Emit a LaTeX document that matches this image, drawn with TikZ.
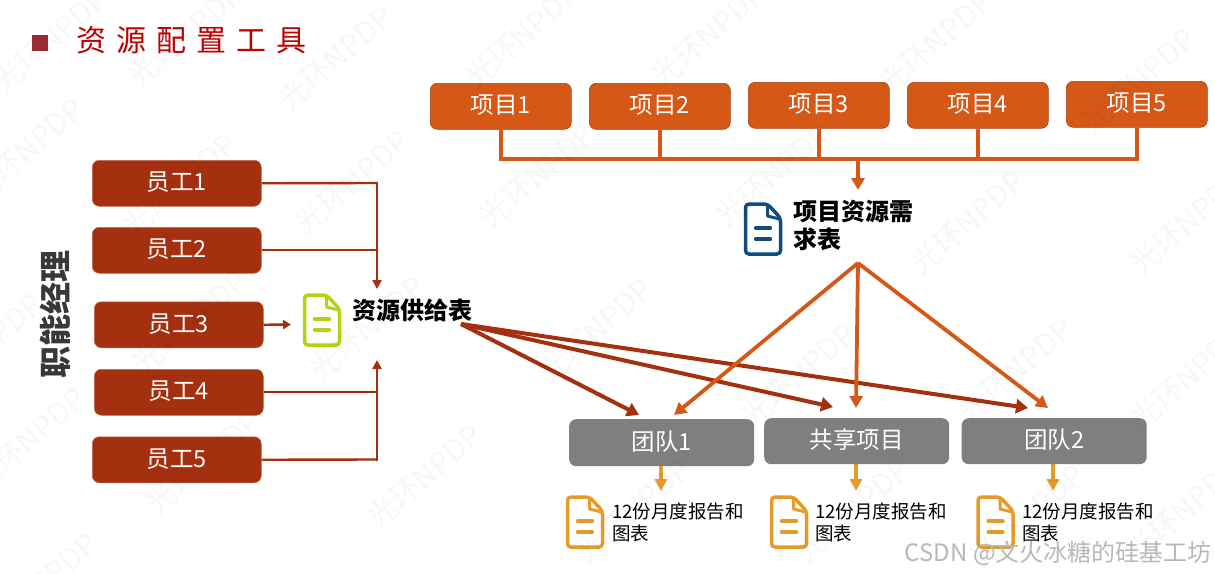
\documentclass[tikz,border=0pt]{standalone}
\usepackage{fontspec}
\usetikzlibrary{arrows.meta}
\setmainfont{Noto Sans CJK SC}
\definecolor{staff}{HTML}{A5300F}
\definecolor{proj}{HTML}{D55816}
\definecolor{team}{HTML}{7F7F7F}
\definecolor{goldb}{HTML}{E49B2A}
\definecolor{titlered}{HTML}{C00000}
\definecolor{squarered}{HTML}{9E2A35}
\definecolor{blueicon}{HTML}{0F4C81}
\definecolor{greenicon}{HTML}{B0D50F}
\tikzset{
  x=1pt,y=-1pt,
  box/.style={rounded corners=7pt,minimum height=46pt,inner sep=0pt,text=white,font=\fontsize{23.5}{27}\selectfont,anchor=north west,text height=20pt,text depth=5pt},
  staffbox/.style={box,fill=staff,draw=staff!70!white,line width=.5pt,minimum width=169pt},
  projbox/.style={box,fill=proj,draw=proj!75!black,line width=.6pt,minimum width=141pt},
  teambox/.style={box,fill=team,minimum width=185pt},
  wline/.style={draw=staff,line width=2.4pt},
  warrow/.style={wline,-{Triangle[length=8pt,width=9pt]}},
  pbar/.style={draw=proj,line width=3.8pt},
  parrow/.style={draw=proj,line width=3.8pt,-{Triangle[length=12pt,width=13pt]}},
  sarrow/.style={draw=staff,line width=4pt,-{Triangle[length=12pt,width=14pt]}},
  garrow/.style={draw=goldb,line width=3.4pt,-{Triangle[length=12pt,width=12pt]}},
  tabletext/.style={font=\bfseries\fontsize{24}{28}\selectfont,text=black,inner sep=0pt,align=left,anchor=west},
  reporttext/.style={font=\fontsize{18.5}{22}\selectfont,text=black,inner sep=0pt,align=left,anchor=west},
  mark wm/.style={font=\fontsize{30}{34}\selectfont,text=black,text opacity=.03,rotate=41,inner sep=0pt},
  docicon/.pic={
    \draw[line width=3.5pt,rounded corners=3.5pt,pic actions] (22,0) -- (0,0) -- (0,50) -- (35,50) -- (35,14) -- cycle;
    \draw[line width=3pt,pic actions,line join=round] (22,1) -- (22,12) -- (34,15);
    \draw[line width=3.2pt,pic actions,line cap=round] (10,24) -- (25,24);
    \draw[line width=3.2pt,pic actions,line cap=round] (10,35) -- (25,35);
  }
}
\begin{document}
\begin{tikzpicture}
\useasboundingbox (0,0) rectangle (1215,573);
\clip (0,0) rectangle (1215,573);
% title
\fill[squarered] (32,35) rectangle (48,51);
\node[text=titlered,font=\fontsize{30}{32}\selectfont,inner sep=0pt,anchor=west] (title) at (76.5,40) {资\hspace{10pt}源\hspace{10pt}配\hspace{10pt}置\hspace{10pt}工\hspace{10pt}具};
\node[rotate=90,font=\bfseries\fontsize{32}{36}\selectfont,text=black!78,inner sep=0pt] (mgr) at (55,314) {职能经理};
% staff
\node[staffbox] (s1) at (92,160) {员工1};
\node[staffbox] (s2) at (92,227) {员工2};
\node[staffbox] (s3) at (94,301.5) {员工3};
\node[staffbox] (s4) at (94,369) {员工4};
\node[staffbox] (s5) at (92,436.5) {员工5};
% projects
\node[projbox] (p1) at (430,83) {项目1};
\node[projbox] (p2) at (589,83) {项目2};
\node[projbox] (p3) at (748,82) {项目3};
\node[projbox] (p4) at (907,82) {项目4};
\node[projbox] (p5) at (1066,81) {项目5};
% teams
\node[teambox,minimum height=47pt] (t1) at (569,419) {团队1};
\node[teambox] (t2) at (764,418) {共享项目};
\node[teambox] (t3) at (961.5,418) {团队2};
% labels
\node[tabletext] (supply) at (352,310) {资源供给表};
\node[tabletext] (demand) at (793,225) {项目资源需\\求表};
\node[reporttext] (r1) at (612,522) {12份月度报告和\\图表};
\node[reporttext] (r2) at (815,522) {12份月度报告和\\图表};
\node[reporttext] (r3) at (1022,522) {12份月度报告和\\图表};
% icons
\pic[draw=blueicon] (i1) at (745.5,204) {docicon};
\pic[draw=greenicon] (i2) at (304.5,295) {docicon};
\pic[draw=goldb] (i3) at (567.5,497) {docicon};
\pic[draw=goldb] (i4) at (771.5,497) {docicon};
\pic[draw=goldb] (i5) at (978,497) {docicon};
% coordinates
\coordinate (wtop) at (377,183);
\coordinate (wbot) at (377,459.5);
\coordinate (wtopend) at (377,289);
\coordinate (wbotend) at (377,360);
\coordinate (s3end) at (291,324.5);
\coordinate (bar) at (858,159);
\coordinate (barend) at (858,190);
\coordinate (dsrc) at (858,263);
\coordinate (ssrc) at (461,324);
\coordinate (a1) at (639,415);
\coordinate (a2) at (833,407);
\coordinate (a3) at (1028,408);
\coordinate (b1) at (674,415);
\coordinate (b2) at (856,408);
\coordinate (b3) at (1048,408);
% staff connectors
\draw[wline] (s1.east) -- (wtop);
\draw[wline] (s2.east) -- (s2.east -| wtop);
\draw[wline] (s4.east) -- (s4.east -| wbot);
\draw[wline] (s5.east) -- (wbot);
\draw[draw=staff,line width=2.4pt,-{Triangle[length=9pt,width=9pt]}] ([yshift=1.2pt]wtop) -- (wtopend);
\draw[draw=staff,line width=2.4pt,-{Triangle[length=9pt,width=9pt]}] ([yshift=-1.2pt]wbot) -- (wbotend);
\draw[warrow] (s3.east) -- (s3end);
% project connectors
\draw[pbar] (p1.south) -- (p1.south |- bar) -- (p5.south |- bar) -- (p5.south);
\draw[pbar] (p2.south) -- (p2.south |- bar);
\draw[pbar] (p3.south) -- (p3.south |- bar);
\draw[pbar] (p4.south) -- (p4.south |- bar);
\draw[parrow] (bar) -- (barend);
% supply arrows
\draw[sarrow] (ssrc) -- (a1);
\draw[sarrow] (ssrc) -- (a2);
\draw[sarrow] (ssrc) -- (a3);
% demand arrows
\draw[parrow] (dsrc) -- (b1);
\draw[parrow] (dsrc) -- (b2);
\draw[parrow] (dsrc) -- (b3);
% downward arrows
\coordinate (g1) at (661,491);
\coordinate (g2) at (856,491);
\coordinate (g3) at (1053,491);
\draw[garrow] (t1.south -| g1) -- (g1);
\draw[garrow] (t2.south -| g2) -- (g2);
\draw[garrow] (t3.south -| g3) -- (g3);
% CSDN mark
\node[font=\fontsize{24}{26}\selectfont,text=black!28,inner sep=0pt,anchor=east] (csdn) at (1212,553) {CSDN @文火冰糖的硅基工坊};
% watermarks
\foreach \wx/\wy [count=\wi] in {50/40,185/35,335/58,26/150,179/185,352/182,522/35,708/35,537/175,772/175,935/42,1138/80,967/222,1187/222,190/322,367/328,28/440,203/462,424/476,40/585,-15/345,595/330,798/375,633/510,852/510,1015/370,1187/377,1027/516,1183/510}
  \node[mark wm] (wm\wi) at (\wx,\wy) {光环NPDP};
\end{tikzpicture}
\end{document}
